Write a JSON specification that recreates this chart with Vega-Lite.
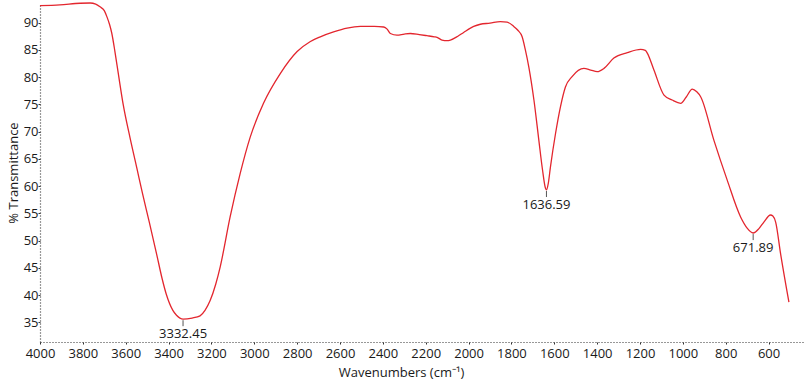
{
  "$schema": "https://vega.github.io/schema/vega-lite/v6.json",
  "width": 765,
  "height": 339,
  "autosize": {"type": "none"},
  "padding": {"left": 40, "top": 3, "right": 4, "bottom": 41},
  "background": "white",
  "config": {
    "view": {"stroke": null},
    "font": "Open Sans",
    "axis": {"grid": false, "domainColor": "#333", "domainDash": [1, 2], "domainWidth": 1.2, "tickColor": "#333", "tickSize": 2, "labelFontSize": 13, "labelColor": "#1a1a1a", "titleFontSize": 13, "titleFontWeight": "normal", "titleColor": "#1a1a1a", "labelFont": "Open Sans", "titleFont": "Open Sans", "labelOverlap": false, "labelSeparation": 0, "format": "d"}
  },
  "datasets": {
    "spectrum": [
      {"wn": 4000, "t": 93.1}, {"wn": 3907, "t": 93.25}, {"wn": 3813, "t": 93.55}, {"wn": 3766, "t": 93.6},
      {"wn": 3740, "t": 93.4}, {"wn": 3720, "t": 92.9}, {"wn": 3700, "t": 92.2}, {"wn": 3688, "t": 91.1},
      {"wn": 3675, "t": 89.6}, {"wn": 3665, "t": 88.05}, {"wn": 3650, "t": 84.6}, {"wn": 3634, "t": 80.5},
      {"wn": 3611, "t": 74.8}, {"wn": 3580, "t": 68.9}, {"wn": 3548, "t": 63.3}, {"wn": 3522, "t": 58.7},
      {"wn": 3490, "t": 53.4}, {"wn": 3455, "t": 47.4}, {"wn": 3430, "t": 43.0}, {"wn": 3411, "t": 40.2},
      {"wn": 3380, "t": 37.2}, {"wn": 3363, "t": 36.3}, {"wn": 3332, "t": 35.6}, {"wn": 3290, "t": 35.8},
      {"wn": 3253, "t": 36.2}, {"wn": 3230, "t": 37.2}, {"wn": 3206, "t": 39.0}, {"wn": 3180, "t": 42.0},
      {"wn": 3159, "t": 45.2}, {"wn": 3113, "t": 54.3}, {"wn": 3066, "t": 62.3}, {"wn": 3019, "t": 69.0},
      {"wn": 2957, "t": 75.2}, {"wn": 2878, "t": 80.7}, {"wn": 2800, "t": 84.7}, {"wn": 2740, "t": 86.5},
      {"wn": 2692, "t": 87.4}, {"wn": 2630, "t": 88.3}, {"wn": 2567, "t": 89.0}, {"wn": 2505, "t": 89.3},
      {"wn": 2440, "t": 89.3}, {"wn": 2396, "t": 89.2}, {"wn": 2380, "t": 88.8}, {"wn": 2365, "t": 88.0},
      {"wn": 2334, "t": 87.7}, {"wn": 2300, "t": 87.9}, {"wn": 2272, "t": 88.0}, {"wn": 2230, "t": 87.8},
      {"wn": 2194, "t": 87.6}, {"wn": 2160, "t": 87.4}, {"wn": 2147, "t": 87.3}, {"wn": 2124, "t": 86.8},
      {"wn": 2100, "t": 86.7}, {"wn": 2085, "t": 86.8}, {"wn": 2050, "t": 87.5}, {"wn": 2023, "t": 88.2},
      {"wn": 1976, "t": 89.3}, {"wn": 1945, "t": 89.7}, {"wn": 1900, "t": 89.9}, {"wn": 1852, "t": 90.2},
      {"wn": 1820, "t": 90.1}, {"wn": 1789, "t": 89.3}, {"wn": 1770, "t": 88.6}, {"wn": 1750, "t": 87.4},
      {"wn": 1735, "t": 85.0}, {"wn": 1719, "t": 81.9}, {"wn": 1695, "t": 75.8}, {"wn": 1672, "t": 68.4},
      {"wn": 1655, "t": 63.0}, {"wn": 1641, "t": 59.6}, {"wn": 1636.59, "t": 59.3}, {"wn": 1628, "t": 60.5},
      {"wn": 1618, "t": 63.5}, {"wn": 1594, "t": 69.7}, {"wn": 1571, "t": 74.6}, {"wn": 1548, "t": 78.2},
      {"wn": 1517, "t": 80.1}, {"wn": 1462, "t": 81.6}, {"wn": 1430, "t": 81.3}, {"wn": 1400, "t": 81.0},
      {"wn": 1368, "t": 81.6}, {"wn": 1322, "t": 83.5}, {"wn": 1259, "t": 84.5}, {"wn": 1197, "t": 85.1},
      {"wn": 1175, "t": 84.9}, {"wn": 1166, "t": 84.4}, {"wn": 1135, "t": 81.3}, {"wn": 1088, "t": 76.7},
      {"wn": 1050, "t": 75.8}, {"wn": 1010, "t": 75.2}, {"wn": 985, "t": 76.3}, {"wn": 956, "t": 77.8},
      {"wn": 935, "t": 77.3}, {"wn": 917, "t": 76.4}, {"wn": 855, "t": 68.4}, {"wn": 793, "t": 61.1},
      {"wn": 730, "t": 54.3}, {"wn": 700, "t": 52.3}, {"wn": 672, "t": 51.4}, {"wn": 645, "t": 52.2},
      {"wn": 622, "t": 53.4}, {"wn": 591, "t": 54.7}, {"wn": 580, "t": 54.5}, {"wn": 567, "t": 53.4},
      {"wn": 544, "t": 47.6}, {"wn": 505, "t": 38.7}
    ],
    "peaks": [
      {"wn": 3332.45, "t": 35.6, "top": 35.4, "bottom": 34.3, "label": "3332.45"},
      {"wn": 1636.59, "t": 59.3, "top": 59.1, "bottom": 58.0, "label": "1636.59"},
      {"wn": 671.89, "t": 51.4, "top": 51.2, "bottom": 50.1, "label": "671.89"}
    ]
  },
  "layer": [
    {
      "data": {"name": "spectrum"},
      "mark": {"type": "line", "color": "#e3262e", "strokeWidth": 1.3, "interpolate": "monotone"},
      "encoding": {
        "x": {"field": "wn", "type": "quantitative", "scale": {"domain": [4000, 430], "nice": false, "zero": false},
          "axis": {"values": [4000, 3800, 3600, 3400, 3200, 3000, 2800, 2600, 2400, 2200, 2000, 1800, 1600, 1400, 1200, 1000, 800, 600], "title": "Wavenumbers (cm⁻¹)", "titleX": 361, "titleAnchor": "middle", "labelPadding": 3, "titlePadding": 6, "labelFlush": false, "labelOverlap": false}},
        "y": {"field": "t", "type": "quantitative", "scale": {"domain": [31.4, 93.6], "nice": false, "zero": false},
          "axis": {"values": [35, 40, 45, 50, 55, 60, 65, 70, 75, 80, 85, 90], "title": "% Transmittance", "labelPadding": 0, "titlePadding": 3, "labelFlush": false, "labelOverlap": false, "labelSeparation": 0}}
      }
    },
    {
      "data": {"name": "peaks"},
      "mark": {"type": "rule", "color": "#555", "strokeWidth": 1},
      "encoding": {
        "x": {"field": "wn", "type": "quantitative",
          "axis": {"values": [4000, 3800, 3600, 3400, 3200, 3000, 2800, 2600, 2400, 2200, 2000, 1800, 1600, 1400, 1200, 1000, 800, 600], "title": "Wavenumbers (cm⁻¹)", "titleX": 361, "titleAnchor": "middle", "labelPadding": 3, "titlePadding": 6, "labelFlush": false, "labelOverlap": false}},
        "y": {"field": "top", "type": "quantitative",
          "axis": {"values": [35, 40, 45, 50, 55, 60, 65, 70, 75, 80, 85, 90], "title": "% Transmittance", "labelPadding": 0, "titlePadding": 3, "labelFlush": false, "labelOverlap": false, "labelSeparation": 0}},
        "y2": {"field": "bottom"}
      }
    },
    {
      "data": {"name": "peaks"},
      "mark": {"type": "text", "dy": 15, "fontSize": 13, "color": "#1a1a1a", "font": "Open Sans", "baseline": "middle"},
      "encoding": {
        "x": {"field": "wn", "type": "quantitative",
          "axis": {"values": [4000, 3800, 3600, 3400, 3200, 3000, 2800, 2600, 2400, 2200, 2000, 1800, 1600, 1400, 1200, 1000, 800, 600], "title": "Wavenumbers (cm⁻¹)", "titleX": 361, "titleAnchor": "middle", "labelPadding": 3, "titlePadding": 6, "labelFlush": false, "labelOverlap": false}},
        "y": {"field": "t", "type": "quantitative",
          "axis": {"values": [35, 40, 45, 50, 55, 60, 65, 70, 75, 80, 85, 90], "title": "% Transmittance", "labelPadding": 0, "titlePadding": 3, "labelFlush": false, "labelOverlap": false, "labelSeparation": 0}},
        "text": {"field": "label"}
      }
    }
  ]
}
